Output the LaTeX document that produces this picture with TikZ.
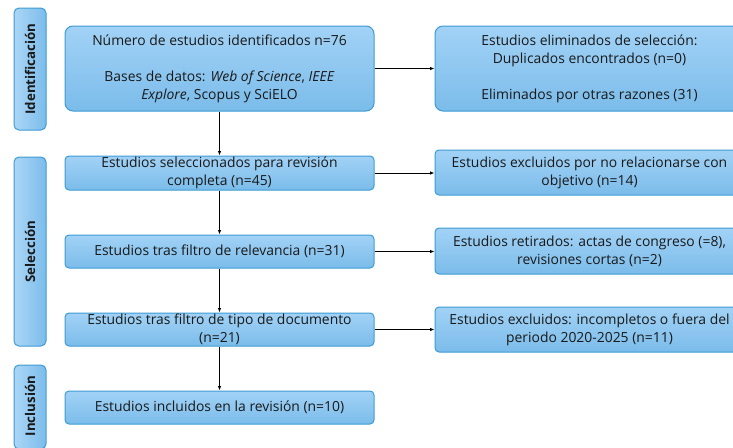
\documentclass[tikz,border=0pt]{standalone}
\usepackage{fontspec}
\setmainfont{Open Sans}
\usetikzlibrary{arrows.meta}
\definecolor{boxtop}{HTML}{A2D2F6}
\definecolor{boxbot}{HTML}{7BBCEA}
\definecolor{boxline}{HTML}{3D9BD3}
\tikzset{
  x=1pt, y=-1pt,
  flowbox/.style={draw=boxline, line width=1pt, rounded corners=4pt, top color=boxtop, bottom color=boxbot,
    align=center, inner sep=0pt, font=\fontsize{13.9}{18}\selectfont, text=black!90},
  bigbox/.style={flowbox, rounded corners=8pt},
  phase/.style={draw=boxline, line width=1pt, rounded corners=5pt, left color=boxtop!90!white, right color=boxbot,
    inner sep=0pt, minimum width=32pt},
  phasetext/.style={rotate=90, font=\fontsize{13.3}{16}\selectfont\bfseries, text=black!90},
  conn/.style={draw=black, line width=0.9pt, -{Latex[length=4.5pt,width=3.5pt]}}
}
\begin{document}
\begin{tikzpicture}
\useasboundingbox (0,0) rectangle (733,447);
\clip (0,0) rectangle (733,447);
% phase labels
\node[phase, minimum height=122pt] (ph1) at (30,69) {};
\node[phasetext] (ph1t) at (ph1.center) {Identificación};
\node[phase, minimum height=189pt] (ph2) at (30,251.5) {};
\node[phasetext] (ph2t) at (ph2.center) {Selección};
\node[phase, minimum height=84pt] (ph3) at (30,407) {};
\node[phasetext] (ph3t) at (30,406) {Inclusión};
% left boxes
\node[bigbox, minimum width=309pt, minimum height=85pt] (b1) at (219.5,68.5) {Número de estudios identificados n=76\\[18pt]
Bases de datos: \textit{Web of Science}, \textit{IEEE}\\ \textit{Explore}, Scopus y SciELO};
\node[flowbox, minimum width=309pt, minimum height=34pt] (b2) at (219.5,173) {Estudios seleccionados para revisión\\ completa (n=45)};
\node[flowbox, minimum width=309pt, minimum height=33pt] (b3) at (219.5,251.5) {Estudios tras filtro de relevancia (n=31)};
\node[flowbox, minimum width=309pt, minimum height=33pt] (b4) at (219.5,329.5) {Estudios tras filtro de tipo de documento\\ (n=21)};
\node[flowbox, minimum width=309pt, minimum height=33pt] (b5) at (219.5,407.5) {Estudios incluidos en la revisión (n=10)};
% right boxes
\node[bigbox, minimum width=309pt, minimum height=85pt] (r1) at (589.5,68.5) {Estudios eliminados de selección:\\ Duplicados encontrados (n=0)\\[18pt] Eliminados por otras razones (31)};
\node[flowbox, minimum width=309pt, minimum height=45pt] (r2) at (589.5,172.5) {Estudios excluidos por no relacionarse con\\ objetivo (n=14)};
\node[flowbox, minimum width=309pt, minimum height=46pt] (r3) at (589.5,251) {Estudios retirados: actas de congreso (=8),\\ revisiones cortas (n=2)};
\node[flowbox, minimum width=309pt, minimum height=45pt] (r4) at (589.5,329.5) {Estudios excluidos: incompletos o fuera del\\ periodo 2020-2025 (n=11)};
% connectors
\draw[conn] (b1) -- (b2);
\draw[conn] (b2) -- (b3);
\draw[conn] (b3) -- (b4);
\draw[conn] (b4) -- (b5);
\draw[conn] (b1.east) -- (r1.west);
\draw[conn] (b2.east) -- (r2.west |- b2.east);
\draw[conn] (b3.east) -- (r3.west |- b3.east);
\draw[conn] (b4.east) -- (r4.west |- b4.east);
\end{tikzpicture}
\end{document}
